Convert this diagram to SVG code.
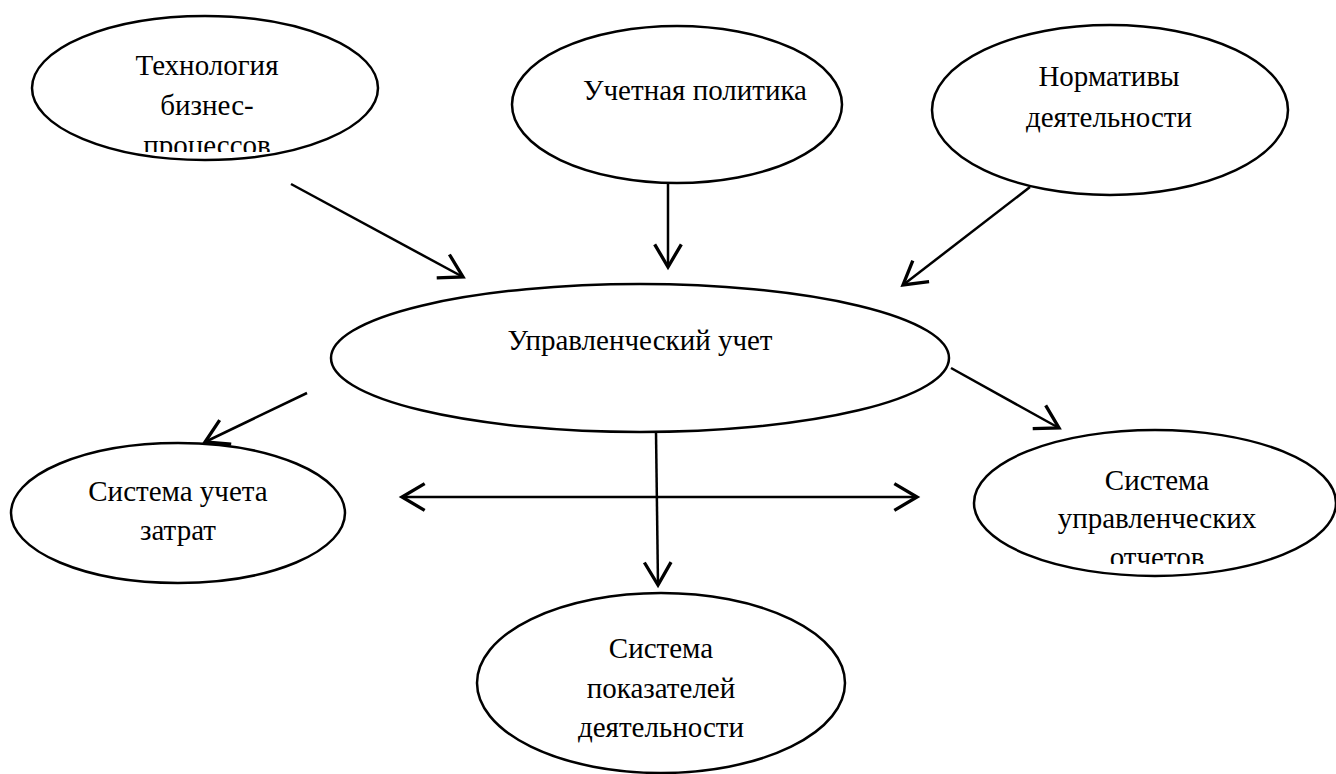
<svg xmlns="http://www.w3.org/2000/svg" width="1336" height="774" viewBox="0 0 1336 774">
<style>
.n{fill:#fff;stroke:#000;stroke-width:2.5}
.t{font-family:"Liberation Serif","Times New Roman",serif;font-size:29px;fill:#000;text-anchor:middle}
.c{fill:none;stroke:#000;stroke-width:2.5}
</style>
<defs>
<marker id="ah" markerUnits="userSpaceOnUse" markerWidth="40" markerHeight="40" viewBox="-25 -15 30 30" refX="0" refY="0" orient="auto-start-reverse" overflow="visible">
<path d="M-17,-10 L0,0 L-17,10" fill="none" stroke="#000" stroke-width="2.5"/>
</marker>
<clipPath id="clip1"><rect x="0" y="0" width="1336" height="152"/></clipPath>
<clipPath id="clip5"><rect x="0" y="0" width="1336" height="564"/></clipPath>
</defs>
<rect width="1336" height="774" fill="#fff"/>
<g id="connectors">
<line class="c" x1="291" y1="184" x2="463" y2="277" marker-end="url(#ah)"/>
<line class="c" x1="668" y1="183" x2="668" y2="267" marker-end="url(#ah)"/>
<line class="c" x1="1030" y1="187" x2="903" y2="285" marker-end="url(#ah)"/>
<line class="c" x1="307" y1="393" x2="205" y2="442" marker-end="url(#ah)"/>
<line class="c" x1="951" y1="368" x2="1059" y2="428" marker-end="url(#ah)"/>
<line class="c" x1="402" y1="497" x2="917" y2="497" marker-start="url(#ah)" marker-end="url(#ah)"/>
<line class="c" x1="656" y1="432" x2="658" y2="585" marker-end="url(#ah)"/>
</g>
<g id="node-tech">
<ellipse class="n" cx="205" cy="88" rx="173" ry="72"/>
<text class="t" x="207" y="75">Технология</text>
<text class="t" x="207" y="115">бизнес-</text>
<text class="t" x="207" y="155" clip-path="url(#clip1)">процессов</text>
</g>
<g id="node-policy">
<ellipse class="n" cx="677" cy="104.5" rx="165" ry="78.5"/>
<text class="t" x="695" y="100">Учетная политика</text>
</g>
<g id="node-norms">
<ellipse class="n" cx="1110" cy="110" rx="178" ry="85"/>
<text class="t" x="1109" y="86">Нормативы</text>
<text class="t" x="1109" y="127">деятельности</text>
</g>
<g id="node-main">
<ellipse class="n" cx="640" cy="358" rx="309" ry="74"/>
<text class="t" x="640" y="350">Управленческий учет</text>
</g>
<g id="node-costs">
<ellipse class="n" cx="178" cy="513" rx="167" ry="70"/>
<text class="t" x="178" y="501">Система учета</text>
<text class="t" x="178" y="540">затрат</text>
</g>
<g id="node-reports">
<ellipse class="n" cx="1155" cy="503" rx="181" ry="73"/>
<text class="t" x="1157" y="490">Система</text>
<text class="t" x="1157" y="528">управленческих</text>
<text class="t" x="1157" y="567" clip-path="url(#clip5)">отчетов</text>
</g>
<g id="node-kpi">
<ellipse class="n" cx="661" cy="683" rx="184" ry="90"/>
<text class="t" x="661" y="658">Система</text>
<text class="t" x="661" y="698">показателей</text>
<text class="t" x="661" y="737">деятельности</text>
</g>
</svg>
